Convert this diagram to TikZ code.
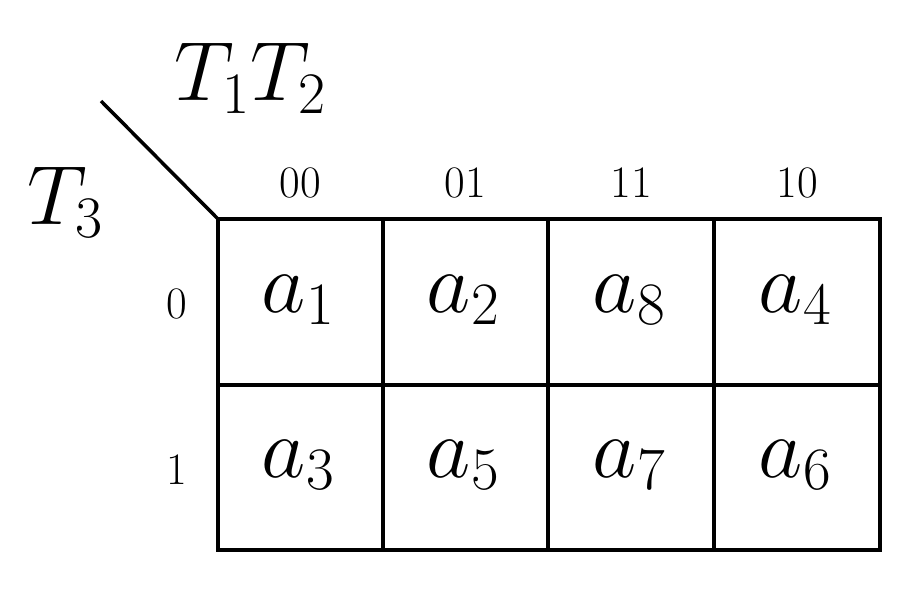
\documentclass[tikz,border=0pt]{standalone}
\usepackage{fix-cm}
\begin{document}
\begin{tikzpicture}[x=1pt,y=-1pt,
  grid/.style={line width=3.5pt},
  big/.style={font=\fontsize{86}{96}\selectfont},
  head/.style={font=\fontsize{84}{94}\selectfont},
  small/.style={font=\fontsize{45}{52}\selectfont}]
\useasboundingbox (0,0) rectangle (922,590);
\draw[grid] (218,219) rectangle (880,550);
\foreach \x in {383,548,714} \draw[grid] (\x,219) -- (\x,550);
\draw[grid] (218,385) -- (880,385);
\coordinate (c0) at (218,219);
\coordinate (d0) at (101,101);
\draw[grid] (d0) -- (c0);
\node[head] (t12) at (250,78) {$T_1T_2$};
\node[head] (t3) at (65,202) {$T_3$};
\node[small] (h1) at (300,183) {00};
\node[small] (h2) at (465,183) {01};
\node[small] (h3) at (631,183) {11};
\node[small] (h4) at (797,183) {10};
\node[small] (r0) at (177,304) {0};
\node[small] (r1) at (177,470) {1};
\node[big] (a1) at (298,300) {$a_1$};
\node[big] (a2) at (463,300) {$a_2$};
\node[big] (a8) at (629,300) {$a_8$};
\node[big] (a4) at (795,300) {$a_4$};
\node[big] (a3) at (298,465) {$a_3$};
\node[big] (a5) at (463,465) {$a_5$};
\node[big] (a7) at (629,465) {$a_7$};
\node[big] (a6) at (795,465) {$a_6$};
\end{tikzpicture}
\end{document}
